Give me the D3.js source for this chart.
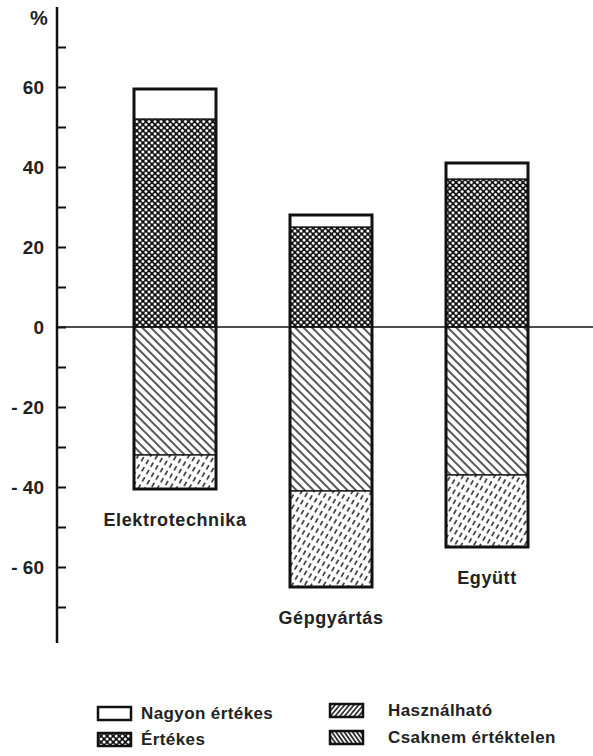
<!DOCTYPE html>
<html>
<head>
<meta charset="utf-8">
<script src="https://cdn.jsdelivr.net/npm/d3@7"></script>
<style>
  body { margin: 0; background: #fff; }
  text { font-family: "Liberation Sans", Arial, sans-serif; font-weight: bold; fill: #222; }
</style>
</head>
<body>
<script>
// data (percent)
var categories = ["Elektrotechnika", "Gépgyártás", "Együtt"];
var nagyonErtekes = [7.5, 3, 4];
var ertekes = [52, 25, 37];
var hasznalhato = [32, 41, 37];
var csaknemErtektelen = [8.5, 24, 18];
var yTicks = d3.range(-70, 80, 10);
var yLabels = [-60, -40, -20, 0, 20, 40, 60];
var legendNames = ["Nagyon értékes", "Értékes", "Használható", "Csaknem értéktelen"];

var width = 593, height = 756;

var svg = d3.select("body").append("svg")
    .attr("width", width)
    .attr("height", height);

var y = d3.scaleLinear().domain([-80, 80]).range([647, 7]);
var x = d3.scalePoint().domain(categories).range([175, 487]);
var barW = 82;
var axisX = 57;

// fill patterns
var defs = svg.append("defs");

var dots = defs.append("pattern")
    .attr("id", "dots")
    .attr("patternUnits", "userSpaceOnUse")
    .attr("width", 4.3).attr("height", 4.3)
    .attr("patternTransform", "rotate(45)");
dots.append("rect").attr("width", 4.3).attr("height", 4.3).attr("fill", "#111");
dots.append("circle").attr("cx", 2.15).attr("cy", 2.15).attr("r", 1.5).attr("fill", "#fff");

var back = defs.append("pattern")
    .attr("id", "back")
    .attr("patternUnits", "userSpaceOnUse")
    .attr("width", 6).attr("height", 10)
    .attr("patternTransform", "rotate(-45)");
back.append("rect").attr("width", 6).attr("height", 10).attr("fill", "#fff");
back.append("line").attr("x1", 1).attr("x2", 1).attr("y1", 0).attr("y2", 10)
    .attr("stroke", "#111").attr("stroke-width", 1.4);

var dash = defs.append("pattern")
    .attr("id", "dash")
    .attr("patternUnits", "userSpaceOnUse")
    .attr("width", 5.5).attr("height", 8.5)
    .attr("patternTransform", "rotate(30)");
dash.append("rect").attr("width", 5.5).attr("height", 8.5).attr("fill", "#fff");
dash.append("line").attr("x1", 1).attr("x2", 1).attr("y1", 1).attr("y2", 6)
    .attr("stroke", "#111").attr("stroke-width", 1.4);

var fwd = defs.append("pattern")
    .attr("id", "fwd")
    .attr("patternUnits", "userSpaceOnUse")
    .attr("width", 3.6).attr("height", 10)
    .attr("patternTransform", "rotate(40)");
fwd.append("rect").attr("width", 3.6).attr("height", 10).attr("fill", "#fff");
fwd.append("line").attr("x1", 1).attr("x2", 1).attr("y1", 0).attr("y2", 10)
    .attr("stroke", "#111").attr("stroke-width", 1.5);

var back2 = defs.append("pattern")
    .attr("id", "back2")
    .attr("patternUnits", "userSpaceOnUse")
    .attr("width", 3.4).attr("height", 10)
    .attr("patternTransform", "rotate(-35)");
back2.append("rect").attr("width", 3.4).attr("height", 10).attr("fill", "#fff");
back2.append("line").attr("x1", 1).attr("x2", 1).attr("y1", 0).attr("y2", 10)
    .attr("stroke", "#111").attr("stroke-width", 1.6);

// stacked segments
var segs = [];
categories.forEach(function(c, i) {
  segs.push({cat: c, y0: 0, y1: ertekes[i], fill: "url(#dots)"});
  segs.push({cat: c, y0: ertekes[i], y1: ertekes[i] + nagyonErtekes[i], fill: "#fff"});
  segs.push({cat: c, y0: -hasznalhato[i], y1: 0, fill: "url(#back)"});
  segs.push({cat: c, y0: -hasznalhato[i] - csaknemErtektelen[i], y1: -hasznalhato[i], fill: "url(#dash)"});
});

svg.append("g").selectAll("rect")
    .data(segs)
    .enter().append("rect")
    .attr("x", function(d) { return x(d.cat) - barW / 2; })
    .attr("width", barW)
    .attr("y", function(d) { return y(d.y1); })
    .attr("height", function(d) { return y(d.y0) - y(d.y1); })
    .attr("fill", function(d) { return d.fill; })
    .attr("stroke", "#111")
    .attr("stroke-width", 1.3);

// zero line
svg.append("line")
    .attr("x1", axisX).attr("x2", width)
    .attr("y1", y(0)).attr("y2", y(0))
    .attr("stroke", "#111").attr("stroke-width", 1.3);

// bar outlines
svg.append("g").selectAll("rect")
    .data(categories)
    .enter().append("rect")
    .attr("x", function(d) { return x(d) - barW / 2; })
    .attr("width", barW)
    .attr("y", function(d, i) { return y(ertekes[i] + nagyonErtekes[i]); })
    .attr("height", function(d, i) {
      return y(-hasznalhato[i] - csaknemErtektelen[i]) - y(ertekes[i] + nagyonErtekes[i]);
    })
    .attr("fill", "none")
    .attr("stroke", "#111")
    .attr("stroke-width", 3);

// category labels
svg.append("g").selectAll("text")
    .data(categories)
    .enter().append("text")
    .attr("x", function(d) { return x(d); })
    .attr("y", function(d, i) { return y(-hasznalhato[i] - csaknemErtektelen[i]) + 37; })
    .attr("text-anchor", "middle")
    .style("font-size", "18px")
    .style("letter-spacing", "0.6px")
    .text(function(d) { return d; });

// y axis: ticks to the right, labels to the left
var gTicks = svg.append("g")
    .attr("transform", "translate(" + axisX + ",0)")
    .call(d3.axisRight(y).tickValues(yTicks).tickSize(9).tickFormat(""));
gTicks.select(".domain").remove();
gTicks.selectAll("line").attr("stroke", "#111").attr("stroke-width", 2);

svg.append("line")
    .attr("x1", axisX).attr("x2", axisX)
    .attr("y1", y(80)).attr("y2", y(-79))
    .attr("stroke", "#111").attr("stroke-width", 2.5);

var gLab = svg.append("g")
    .attr("transform", "translate(" + axisX + ",0)")
    .call(d3.axisLeft(y).tickValues(yLabels).tickSize(0).tickPadding(13)
      .tickFormat(function(d) { return d < 0 ? "- " + (-d) : d; }));
gLab.select(".domain").remove();
gLab.selectAll("text")
    .attr("font-family", null)
    .style("font-size", "19px")
    .attr("dy", "0.36em");

svg.append("text")
    .attr("x", 39).attr("y", 25)
    .attr("text-anchor", "middle")
    .style("font-size", "20px")
    .text("%");

// legend
var legend = [
  {name: legendNames[0], fill: "#fff", x: 98, y: 707, tx: 43},
  {name: legendNames[1], fill: "url(#dots)", x: 98, y: 733, tx: 43},
  {name: legendNames[2], fill: "url(#fwd)", x: 330, y: 704, tx: 58},
  {name: legendNames[3], fill: "url(#back2)", x: 330, y: 731, tx: 58}
];
var lg = svg.append("g").selectAll("g")
    .data(legend)
    .enter().append("g")
    .attr("transform", function(d) { return "translate(" + d.x + "," + d.y + ")"; });
lg.append("rect")
    .attr("width", 33).attr("height", 13)
    .attr("fill", function(d) { return d.fill; })
    .attr("stroke", "#111").attr("stroke-width", 2.5);
lg.append("text")
    .attr("x", function(d) { return d.tx; })
    .attr("y", 12)
    .style("font-size", "17px")
    .style("letter-spacing", "0.4px")
    .text(function(d) { return d.name; });
</script>
</body>
</html>
